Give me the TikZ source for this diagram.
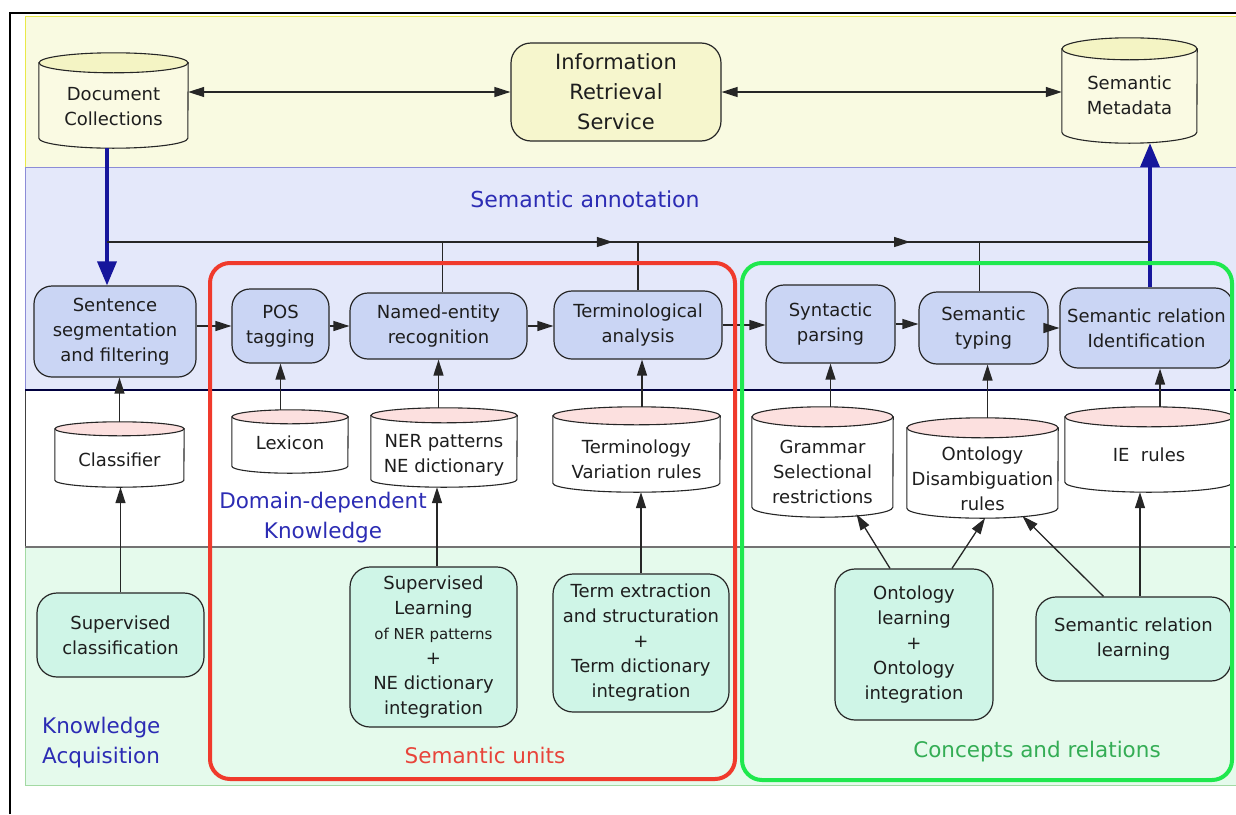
\documentclass[tikz,border=0pt]{standalone}
\usepackage{fontspec}
\setmainfont{DejaVu Sans}
\usetikzlibrary{arrows.meta,decorations.markings}

\definecolor{bandyellow}{HTML}{F9FAE1}
\definecolor{bandblue}{HTML}{E4E8FA}
\definecolor{bandgreen}{HTML}{E5FAEC}
\definecolor{procfill}{HTML}{CAD5F4}
\definecolor{acqfill}{HTML}{CFF5E7}
\definecolor{irsfill}{HTML}{F6F6CD}
\definecolor{cylcream}{HTML}{FAFAE3}
\definecolor{cyltopyellow}{HTML}{F4F4C4}
\definecolor{cylpink}{HTML}{FCE0DF}
\definecolor{edge}{HTML}{262626}
\definecolor{inktext}{HTML}{1E1E1E}
\definecolor{labelblue}{HTML}{2C2CB4}
\definecolor{unitred}{HTML}{F03A2C}
\definecolor{unitredtext}{HTML}{E8443A}
\definecolor{conceptgreen}{HTML}{1FE84E}
\definecolor{conceptgreentext}{HTML}{34AD55}
\definecolor{navy}{HTML}{16169C}

\tikzset{
  nodefont/.style={font=\fontsize{18}{25}\selectfont, text=inktext},
  proc/.style={nodefont, draw=edge, line width=1.2pt, fill=procfill,
    rounded corners=18pt, align=center, inner sep=0pt},
  acq/.style={nodefont, draw=edge, line width=1.2pt, fill=acqfill,
    rounded corners=20pt, align=center, inner sep=0pt},
  irs/.style={font=\fontsize{21}{30}\selectfont, text=inktext, draw=edge,
    line width=1.2pt, fill=irsfill, rounded corners=20pt, align=center, inner sep=0pt},
  cylline/.style={draw=edge, line width=1.1pt},
  cyltext/.style={nodefont, align=center, inner sep=0pt},
  wire/.style={draw=edge, line width=1.3pt},
  arr/.style={wire, -{Triangle[length=16pt,width=10pt]}},
  arrboth/.style={wire, {Triangle[length=16pt,width=10pt]}-{Triangle[length=16pt,width=10pt]}},
  bluearr/.style={draw=navy, line width=3.6pt, -{Triangle[length=24pt,width=19pt]}},
  bandlabel/.style={inner sep=0pt, font=\fontsize{21.5}{30}\selectfont},
}

% database cylinder: name, cx, cy, width, height, end radius, top fill, text offset, text
\newcommand\dbcyl[9]{%
  \node[inner sep=0pt, minimum width=#4pt, minimum height=#5pt] (#1) at (#2,#3) {};
  \filldraw[cylline, fill=\cylbody]
    ([yshift=-#6pt]#1.north west) -- ([yshift=#6pt]#1.south west)
    arc[start angle=180, end angle=360, x radius=#4pt/2, y radius=#6pt]
    -- ([yshift=-#6pt]#1.north east) -- cycle;
  \filldraw[cylline, fill=#7] ([yshift=-#6pt]#1.north) ellipse[x radius=#4pt/2, y radius=#6pt];
  \node[cyltext] (#1-text) at ([yshift=-#8pt]#1.center) {#9};
}

\begin{document}
\begin{tikzpicture}[x=1pt,y=-1pt]
\useasboundingbox (0,0) rectangle (1236,814);
\fill[white] (0,0) rectangle (1236,814);

% layer bands
\fill[bandyellow] (25,16) rectangle (1236,167);
\draw[color=bandyellow!80!black!40!yellow, line width=0.8pt] (25,167) -- (25,16) -- (1236,16);
\fill[bandblue] (25,167) rectangle (1236,390);
\draw[color=black!35!blue!45, line width=0.8pt] (1236,167) -- (25,167) -- (25,390);
\fill[white] (25,390) rectangle (1236,547);
\draw[color=black!75, line width=1pt] (25,390) -- (25,547);
\fill[bandgreen] (25,547) rectangle (1236,785);
\draw[color=green!25!white!85!black, line width=0.8pt] (25,547) -- (25,785) -- (1236,785);
\draw[color=black!30!blue!35!black, line width=1.6pt] (25,390) -- (1236,390);
\draw[color=black!55, line width=1.5pt] (25,547) -- (1236,547);

% outer frame
\draw[line width=2pt] (10,814) -- (10,13) -- (1236,13);

% storage and service layer
\def\cylbody{cylcream}
\dbcyl{DC}{113.5}{100.5}{149}{95}{10}{cyltopyellow}{6.5}{Document\\Collections}
\dbcyl{SM}{1129.5}{90.5}{135}{105}{11}{cyltopyellow}{4.5}{Semantic\\Metadata}
\node[irs, minimum width=210pt, minimum height=98pt] (IRS) at (616,92) {Information\\Retrieval\\Service};

% annotation pipeline
\node[proc, minimum width=162pt, minimum height=91pt] (SS) at (115,331.5) {Sentence\\segmentation\\and filtering};
\node[proc, minimum width=97pt, minimum height=74pt] (POS) at (280.5,326) {POS\\tagging};
\node[proc, minimum width=177pt, minimum height=66pt] (NER) at (438.5,326) {Named-entity\\recognition};
\node[proc, minimum width=168pt, minimum height=68pt] (TA) at (638,325) {Terminological\\analysis};
\node[proc, minimum width=129pt, minimum height=78pt] (SP) at (830.5,324) {Syntactic\\parsing};
\node[proc, minimum width=129pt, minimum height=72pt] (ST) at (983.5,328) {Semantic\\typing};
\node[proc, minimum width=173pt, minimum height=80pt] (SRI) at (1146.5,328) {Semantic relation\\Identification};

% knowledge resources
\def\cylbody{white}
\dbcyl{CL}{119.5}{454.5}{129}{65}{7}{cylpink}{5.5}{Classifier}
\dbcyl{LEX}{290}{441.5}{116}{63}{7}{cylpink}{1.5}{Lexicon}
\dbcyl{NERDB}{444}{447.5}{146}{79}{7.5}{cylpink}{7.5}{NER patterns\\NE dictionary}
\dbcyl{TVR}{636.5}{449.5}{167}{85}{9}{cylpink}{10}{Terminology\\Variation rules}
\dbcyl{GR}{822.5}{462}{141}{110}{10}{cylpink}{10}{Grammar\\Selectional\\restrictions}
\dbcyl{ONT}{982.5}{468}{151}{100}{10}{cylpink}{11}{Ontology\\Disambiguation\\rules}
\dbcyl{IE}{1149}{449.5}{168}{85}{10}{cylpink}{5.5}{IE\ \ rules}

% knowledge acquisition
\node[acq, minimum width=167pt, minimum height=84pt] (SC) at (120.5,635) {Supervised\\classification};
\node[acq, minimum width=167pt, minimum height=160pt] (SL) at (433.5,647) {Supervised\\Learning\\\fontsize{15}{25}\selectfont of NER patterns\\\fontsize{18}{25}\selectfont +\\NE dictionary\\integration};
\node[acq, minimum width=176pt, minimum height=138pt] (TE) at (641,643) {Term extraction\\and structuration\\+\\Term dictionary\\integration};
\node[acq, minimum width=158pt, minimum height=151pt] (OL) at (914,644.5) {Ontology\\learning\\+\\Ontology\\integration};
\node[acq, minimum width=195pt, minimum height=84pt] (SRL) at (1133.5,639) {Semantic relation\\learning};

% service connections
\draw[arrboth] (DC.east |- IRS.west) -- (IRS.west);
\draw[arrboth] (IRS.east) -- (IRS.east -| SM.west);

% document flow in and metadata out
\draw[bluearr] ([xshift=-6.5pt]DC.south) -- ([xshift=-6.5pt]DC.south |- SS.north);
\draw[bluearr] ([xshift=3.5pt]SRI.north) -- ([xshift=3.5pt]SRI.north |- SM.south);

% annotation bus
\coordinate (busL) at (107,242);
\coordinate (busR) at (1150,242);
\draw[wire, postaction=decorate, decoration={markings,
    mark=at position 0.485 with {\arrow{Triangle[length=16pt,width=10pt]}},
    mark=at position 0.77 with {\arrow{Triangle[length=16pt,width=10pt]}}}]
  (busL) -- (busR);
\draw[wire] ([xshift=4pt]NER.north |- busL) -- ([xshift=4pt]NER.north);
\draw[wire] (TA.north |- busL) -- (TA.north);
\draw[wire] ([xshift=-4pt]ST.north |- busL) -- ([xshift=-4pt]ST.north);

% pipeline steps
\draw[arr] (SS.east |- POS.west) -- (POS.west);
\draw[arr] (POS.east) -- (POS.east -| NER.west);
\draw[arr] (NER.east) -- (NER.east -| TA.west);
\draw[arr] (TA.east) -- (TA.east -| SP.west);
\draw[arr] (SP.east) -- (SP.east -| ST.west);
\draw[arr] (ST.east) -- (ST.east -| SRI.west);

% resources feeding the steps
\draw[arr] (CL.north) -- (CL.north |- SS.south);
\draw[arr] (LEX.north -| POS.south) -- (POS.south);
\draw[arr] (NERDB.north -| NER.south) -- (NER.south);
\draw[arr] ([xshift=4pt]TA.south |- TVR.north) -- ([xshift=4pt]TA.south);
\draw[arr] (GR.north -| SP.south) -- (SP.south);
\draw[arr] ([xshift=4pt]ST.south |- ONT.north) -- ([xshift=4pt]ST.south);
\draw[arr] ([xshift=11pt]IE.north) -- ([xshift=11pt]IE.north |- SRI.south);

% acquisition feeding the resources
\draw[arr] (SC.north) -- (SC.north |- CL.south);
\draw[arr] ([xshift=3.5pt]SL.north) -- ([xshift=3.5pt]SL.north |- NERDB.south);
\draw[arr] (TE.north) -- (TE.north |- TVR.south);
\draw[arr] ([xshift=-24pt]OL.north) -- ([xshift=34pt,yshift=3pt]GR.south);
\draw[arr] ([xshift=38pt]OL.north) -- ([xshift=2.5pt]ONT.south);
\draw[arr] ([xshift=-30pt]SRL.north) -- ([xshift=40pt,yshift=2pt]ONT.south);
\draw[arr] ([xshift=6.5pt]SRL.north) -- ([xshift=6.5pt]SRL.north |- IE.south);

% groupings
\draw[unitred, line width=4pt, rounded corners=20pt] (210,263) rectangle (735,779);
\draw[conceptgreen, line width=4pt, rounded corners=20pt] (742,263) rectangle (1232,780);

% layer and group labels
\node[bandlabel, font=\fontsize{22}{28}\selectfont, text=labelblue] (annot) at (585,199) {Semantic annotation};
\node[bandlabel, align=center, text=labelblue] (ddk) at (323,518) {Domain-dependent\\Knowledge};
\node[bandlabel, align=left, anchor=west, text=labelblue] (kacq) at (42,743) {Knowledge\\Acquisition};
\node[bandlabel, text=unitredtext] (sunits) at (485,755) {Semantic units};
\node[bandlabel, text=conceptgreentext] (concepts) at (1037,752) {Concepts and relations};
\end{tikzpicture}
\end{document}
